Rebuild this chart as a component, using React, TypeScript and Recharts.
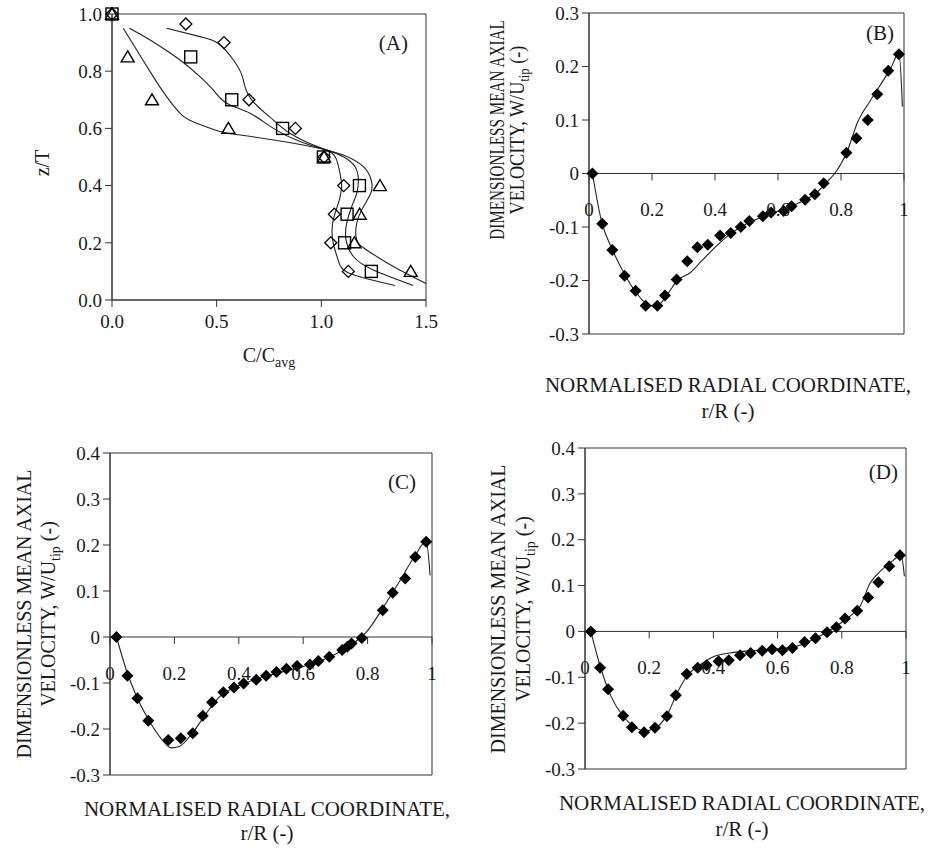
import React from 'react';
import { ScatterChart, Scatter, XAxis, YAxis, ReferenceArea, ReferenceLine } from 'recharts';

const W = 929;
const H = 848;
const FONT = '"Liberation Serif", "Times New Roman", serif';
const INK = '#1a1a1a';
const AXIS = '#333';
const Y_W = 60;
const X_H = 40;

/* ─── Panel A: concentration profiles ─────────────── */
const aTicksX = [0, 0.5, 1, 1.5];
const aTicksY = [0, 0.2, 0.4, 0.6, 0.8, 1];

const aDiamonds = [[0, 1], [0.353, 0.965], [0.535, 0.9], [0.654, 0.7], [0.876, 0.6], [1.013, 0.5], [1.107, 0.4], [1.062, 0.3], [1.045, 0.2], [1.129, 0.1]];
const aSquares = [[0, 1], [0.376, 0.85], [0.572, 0.7], [0.815, 0.6], [1.01, 0.5], [1.182, 0.4], [1.123, 0.3], [1.111, 0.2], [1.239, 0.1]];
const aTriangles = [[0, 1], [0.075, 0.85], [0.191, 0.7], [0.556, 0.6], [1.013, 0.5], [1.28, 0.4], [1.183, 0.3], [1.158, 0.2], [1.427, 0.1]];

const aCurveD = [[0.261, 0.95], [0.42, 0.921], [0.508, 0.897], [0.58, 0.839], [0.62, 0.787], [0.635, 0.746], [0.675, 0.693], [0.771, 0.629], [0.85, 0.583], [0.962, 0.542], [1.04, 0.519], [1.073, 0.49], [1.089, 0.443], [1.097, 0.396], [1.081, 0.338], [1.057, 0.28], [1.054, 0.21], [1.08, 0.14], [1.137, 0.093], [1.352, 0.051]];
const aCurveS = [[0.083, 0.95], [0.182, 0.909], [0.325, 0.839], [0.42, 0.781], [0.484, 0.734], [0.548, 0.688], [0.659, 0.653], [0.771, 0.6], [0.898, 0.554], [1.025, 0.524], [1.105, 0.501], [1.161, 0.466], [1.177, 0.42], [1.169, 0.373], [1.145, 0.326], [1.121, 0.268], [1.118, 0.21], [1.153, 0.152], [1.248, 0.105], [1.439, 0.051]];
const aCurveT = [[0.054, 0.95], [0.118, 0.874], [0.197, 0.781], [0.261, 0.711], [0.333, 0.647], [0.404, 0.618], [0.516, 0.589], [0.611, 0.577], [0.818, 0.554], [0.994, 0.53], [1.105, 0.507], [1.201, 0.466], [1.24, 0.414], [1.236, 0.373], [1.201, 0.326], [1.169, 0.268], [1.169, 0.21], [1.216, 0.175], [1.344, 0.117], [1.5, 0.058]];

/* ─── Panels B-D: axial velocity ──────────────────── */
const rTicks = [0, 0.2, 0.4, 0.6, 0.8, 1];
const vTicksB = [-0.3, -0.2, -0.1, 0, 0.1, 0.2, 0.3];
const vTicksCD = [-0.3, -0.2, -0.1, 0, 0.1, 0.2, 0.3, 0.4];

const bPoints = [[0.011, 0], [0.042, -0.094], [0.074, -0.143], [0.113, -0.191], [0.148, -0.219], [0.18, -0.247], [0.217, -0.247], [0.241, -0.228], [0.278, -0.198], [0.312, -0.164], [0.344, -0.138], [0.377, -0.133], [0.416, -0.116], [0.45, -0.111], [0.482, -0.1], [0.509, -0.089], [0.552, -0.08], [0.578, -0.073], [0.618, -0.07], [0.643, -0.061], [0.686, -0.049], [0.717, -0.039], [0.745, -0.018], [0.817, 0.039], [0.849, 0.066], [0.885, 0.1], [0.915, 0.148], [0.95, 0.192], [0.984, 0.223]];
const bCurve = [[0.011, 0], [0.04, -0.09], [0.074, -0.142], [0.11, -0.185], [0.15, -0.223], [0.19, -0.246], [0.215, -0.248], [0.25, -0.225], [0.28, -0.2], [0.32, -0.186], [0.36, -0.162], [0.4, -0.138], [0.44, -0.117], [0.5, -0.094], [0.56, -0.079], [0.62, -0.066], [0.68, -0.051], [0.72, -0.037], [0.76, -0.013], [0.78, 0], [0.82, 0.042], [0.852, 0.095], [0.894, 0.137], [0.958, 0.197], [0.984, 0.225], [0.995, 0.125]];

const cPoints = [[0.02, 0], [0.054, -0.084], [0.085, -0.133], [0.119, -0.182], [0.181, -0.224], [0.22, -0.22], [0.257, -0.209], [0.288, -0.171], [0.317, -0.142], [0.352, -0.12], [0.385, -0.11], [0.415, -0.101], [0.454, -0.093], [0.485, -0.084], [0.517, -0.076], [0.548, -0.069], [0.581, -0.063], [0.621, -0.06], [0.647, -0.052], [0.681, -0.043], [0.721, -0.028], [0.737, -0.021], [0.75, -0.014], [0.782, -0.002], [0.847, 0.058], [0.878, 0.096], [0.917, 0.127], [0.948, 0.174], [0.982, 0.207]];
const cCurve = [[0.02, 0], [0.05, -0.07], [0.08, -0.125], [0.12, -0.18], [0.16, -0.222], [0.19, -0.241], [0.215, -0.238], [0.26, -0.205], [0.3, -0.165], [0.34, -0.13], [0.38, -0.112], [0.42, -0.1], [0.48, -0.086], [0.54, -0.075], [0.6, -0.064], [0.66, -0.05], [0.72, -0.03], [0.77, -0.006], [0.8, 0.014], [0.85, 0.066], [0.9, 0.122], [0.95, 0.18], [0.982, 0.208], [0.994, 0.134]];

const dPoints = [[0.018, 0], [0.047, -0.079], [0.072, -0.126], [0.119, -0.184], [0.146, -0.209], [0.184, -0.22], [0.218, -0.21], [0.255, -0.185], [0.283, -0.139], [0.317, -0.093], [0.351, -0.079], [0.379, -0.074], [0.416, -0.065], [0.448, -0.063], [0.483, -0.052], [0.516, -0.047], [0.552, -0.042], [0.583, -0.039], [0.615, -0.041], [0.646, -0.036], [0.684, -0.023], [0.718, -0.015], [0.754, -0.002], [0.783, 0.009], [0.81, 0.028], [0.848, 0.045], [0.882, 0.074], [0.914, 0.107], [0.948, 0.142], [0.981, 0.166]];
const dCurve = [[0.018, 0], [0.05, -0.082], [0.08, -0.14], [0.12, -0.186], [0.15, -0.206], [0.185, -0.217], [0.22, -0.21], [0.255, -0.183], [0.29, -0.13], [0.32, -0.095], [0.36, -0.072], [0.4, -0.055], [0.45, -0.047], [0.5, -0.043], [0.56, -0.04], [0.62, -0.037], [0.67, -0.03], [0.72, -0.014], [0.76, 0.001], [0.8, 0.02], [0.84, 0.042], [0.856, 0.054], [0.888, 0.105], [0.924, 0.134], [0.96, 0.155], [0.985, 0.167], [0.995, 0.12]];

const toPts = (pairs: number[][]) => pairs.map(([x, y]) => ({ x, y }));

const tickStyle = { fontSize: 19, fontFamily: FONT, fill: INK };

// markers
const diamond = (cx: number, cy: number, r: number) =>
  `${cx},${cy - r} ${cx + r},${cy} ${cx},${cy + r} ${cx - r},${cy}`;

const FilledDiamond = (p: any) => <polygon points={diamond(p.cx, p.cy, 6)} fill="#000" />;
const OpenDiamond = (p: any) => <polygon points={diamond(p.cx, p.cy, 6)} fill="none" stroke="#000" strokeWidth={1.3} />;
const OpenSquare = (p: any) => <rect x={p.cx - 6} y={p.cy - 6} width={12} height={12} fill="none" stroke="#000" strokeWidth={1.4} />;
const OpenTriangle = (p: any) => (
  <polygon points={`${p.cx},${p.cy - 6} ${p.cx + 6.5},${p.cy + 5} ${p.cx - 6.5},${p.cy + 5}`} fill="none" stroke="#000" strokeWidth={1.4} />
);
const NoMark = () => <g />;

const lineStyle = { stroke: '#222', strokeWidth: 1.1 };

function ConcentrationPanel() {
  const box = { left: 112, right: 426, top: 14, bottom: 300 };
  return (
    <div style={{ position: 'absolute', left: 0, top: 0 }}>
      <ScatterChart
        width={W}
        height={H}
        margin={{ top: box.top, left: box.left - Y_W, right: W - box.right, bottom: H - box.bottom - X_H }}
      >
        <XAxis type="number" dataKey="x" domain={[0, 1.5]} ticks={aTicksX} interval={0} height={X_H}
          stroke={AXIS} tickSize={7} tickMargin={8} tick={tickStyle} tickFormatter={(v: number) => v.toFixed(1)} />
        <YAxis type="number" dataKey="y" domain={[0, 1]} ticks={aTicksY} interval={0} width={Y_W}
          stroke={AXIS} tickSize={7} tickMargin={3} tick={tickStyle} tickFormatter={(v: number) => v.toFixed(1)} />
        <ReferenceArea x1={0} x2={1.5} y1={0} y2={1} fill="none" stroke={AXIS} />
        <Scatter data={toPts(aCurveD)} line={lineStyle} lineJointType="natural" shape={NoMark} isAnimationActive={false} />
        <Scatter data={toPts(aCurveS)} line={lineStyle} lineJointType="natural" shape={NoMark} isAnimationActive={false} />
        <Scatter data={toPts(aCurveT)} line={lineStyle} lineJointType="natural" shape={NoMark} isAnimationActive={false} />
        <Scatter data={toPts(aDiamonds)} shape={OpenDiamond} isAnimationActive={false} />
        <Scatter data={toPts(aSquares)} shape={OpenSquare} isAnimationActive={false} />
        <Scatter data={toPts(aTriangles)} shape={OpenTriangle} isAnimationActive={false} />
      </ScatterChart>
    </div>
  );
}

// x ticks sit on the zero line, not on the bottom frame
const ZeroTick = (p: any) => (
  <g>
    <line x1={p.x} x2={p.x} y1={p.zeroY} y2={p.zeroY + 7} stroke={AXIS} />
    <text x={p.x} y={p.zeroY + 36} dy="0.355em" textAnchor="middle" style={tickStyle}>
      {String(p.payload.value)}
    </text>
  </g>
);

type Box = { left: number; right: number; top: number; bottom: number };

function VelocityPanel({ box, yMin, yMax, yTicks, points, curve }: {
  box: Box; yMin: number; yMax: number; yTicks: number[]; points: number[][]; curve: number[][];
}) {
  const zeroY = box.top + ((box.bottom - box.top) * yMax) / (yMax - yMin);
  return (
    <div style={{ position: 'absolute', left: 0, top: 0 }}>
      <ScatterChart
        width={W}
        height={H}
        margin={{ top: box.top, left: box.left - Y_W, right: W - box.right, bottom: H - box.bottom - X_H }}
      >
        <XAxis type="number" dataKey="x" domain={[0, 1]} ticks={rTicks} interval={0} height={X_H}
          axisLine={false} tickLine={false} tick={(p: any) => <ZeroTick {...p} zeroY={zeroY} />} />
        <YAxis type="number" dataKey="y" domain={[yMin, yMax]} ticks={yTicks} interval={0} width={Y_W}
          stroke={AXIS} tickSize={7} tickMargin={3} tick={tickStyle} tickFormatter={(v: number) => String(v)} />
        <ReferenceArea x1={0} x2={1} y1={yMin} y2={yMax} fill="none" stroke={AXIS} />
        <ReferenceLine y={0} stroke={AXIS} />
        <Scatter data={toPts(curve)} line={lineStyle} lineJointType="monotoneX" shape={NoMark} isAnimationActive={false} />
        <Scatter data={toPts(points)} shape={FilledDiamond} isAnimationActive={false} />
      </ScatterChart>
    </div>
  );
}

const txt = { fontFamily: FONT, fill: INK };

// two-line rotated title; s1/s2 squeeze along the text where the original did
function YTitle({ x1, x2, y, s1 = 1, s2 = 1 }: { x1: number; x2: number; y: number; s1?: number; s2?: number }) {
  return (
    <g>
      <g transform={`translate(${x1} ${y}) rotate(-90) scale(${s1} 1)`}>
        <text x={0} y={0} textAnchor="middle" fontSize={20} style={txt}>DIMENSIONLESS MEAN AXIAL</text>
      </g>
      <g transform={`translate(${x2} ${y}) rotate(-90) scale(${s2} 1)`}>
        <text x={0} y={0} textAnchor="middle" fontSize={20} style={txt}>
          VELOCITY, W/U<tspan fontSize={14} dy={5}>tip</tspan><tspan dy={-5}> (-)</tspan>
        </text>
      </g>
    </g>
  );
}

function XTitle({ x, y1, y2 }: { x: number; y1: number; y2: number }) {
  return (
    <g>
      <text x={x} y={y1} textAnchor="middle" fontSize={21} style={txt}>NORMALISED RADIAL COORDINATE,</text>
      <text x={x} y={y2} textAnchor="middle" fontSize={21} style={txt}>r/R (-)</text>
    </g>
  );
}

function Titles() {
  return (
    <svg width={W} height={H} style={{ position: 'absolute', left: 0, top: 0, pointerEvents: 'none' }}>
      {/* panel A */}
      <text x={49} y={163} transform="rotate(-90 49 163)" textAnchor="middle" fontSize={20} style={txt}>z/T</text>
      <text x={269} y={362} textAnchor="middle" fontSize={20} style={txt}>
        C/C<tspan fontSize={14} dy={5}>avg</tspan>
      </text>
      <text x={408} y={50} textAnchor="end" fontSize={21} style={txt}>(A)</text>
      {/* panel B */}
      <YTitle x1={504} x2={524} y={130} s1={0.76} s2={0.91} />
      <XTitle x={728} y1={392} y2={418} />
      <text x={894} y={40} textAnchor="end" fontSize={21} style={txt}>(B)</text>
      {/* panel C */}
      <YTitle x1={31} x2={55} y={614} />
      <XTitle x={267} y1={816} y2={840} />
      <text x={416} y={489} textAnchor="end" fontSize={21} style={txt}>(C)</text>
      {/* panel D */}
      <YTitle x1={505} x2={530} y={609} />
      <XTitle x={742} y1={810} y2={836} />
      <text x={898} y={479} textAnchor="end" fontSize={21} style={txt}>(D)</text>
    </svg>
  );
}

export default function App() {
  return (
    <div style={{ position: 'absolute', left: 0, top: 0, width: W, height: H, background: '#fff' }}>
      <ConcentrationPanel />
      <VelocityPanel box={{ left: 589, right: 904, top: 13, bottom: 334 }} yMin={-0.3} yMax={0.3} yTicks={vTicksB} points={bPoints} curve={bCurve} />
      <VelocityPanel box={{ left: 110, right: 432, top: 453, bottom: 775 }} yMin={-0.3} yMax={0.4} yTicks={vTicksCD} points={cPoints} curve={cCurve} />
      <VelocityPanel box={{ left: 585, right: 906, top: 448, bottom: 769 }} yMin={-0.3} yMax={0.4} yTicks={vTicksCD} points={dPoints} curve={dCurve} />
      <Titles />
    </div>
  );
}
